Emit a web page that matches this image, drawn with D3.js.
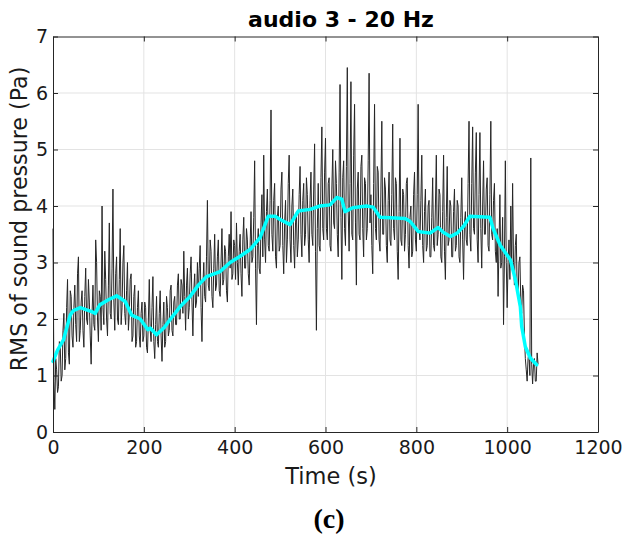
<!DOCTYPE html>
<html>
<head>
<meta charset="utf-8">
<script src="https://cdn.jsdelivr.net/npm/d3@7"></script>
<style>
  body { margin: 0; background: #fff; }
  svg { display: block; font-family: "DejaVu Sans", sans-serif; }
</style>
</head>
<body>
<svg id="chart" width="625" height="542"></svg>
<script>
// Raw RMS samples, one every 2 s from t = 0 to 1068 s
const sampleStep = 2;
const rmsRaw = [
  3.6, 0.9, 0.4, 1.3, 1.1, 0.7, 0.8, 1.6, 1.5, 0.9, 1.0, 1.8, 2.1, 1.1, 1.3, 2.2, 2.7, 1.4, 1.2, 2.5,
  2.4, 1.7, 1.5, 2.2, 2.6, 1.9, 1.6, 2.8, 3.1, 1.6, 1.8, 2.3, 2.5, 1.8, 1.5, 2.4, 2.9, 2.0, 1.9, 2.7,
  2.3, 1.7, 1.2, 2.1, 2.6, 1.9, 1.8, 3.4, 3.0, 2.0, 1.6, 2.5, 2.4, 1.8, 4.0, 2.2, 1.9, 3.2, 2.7, 2.0,
  1.7, 2.6, 3.7, 2.1, 2.0, 2.9, 4.3, 2.3, 1.8, 2.8, 3.1, 2.0, 1.9, 2.7, 3.6, 1.9, 2.2, 3.0, 3.3, 2.1,
  1.9, 2.5, 3.0, 1.8, 2.1, 2.7, 2.8, 1.6, 1.7, 2.4, 2.6, 1.5, 1.6, 2.2, 2.5, 1.7, 1.5, 2.1, 2.3, 1.6,
  1.7, 2.3, 2.2, 1.5, 1.4, 2.0, 2.7, 1.8, 1.6, 2.2, 2.75, 1.6, 1.3, 1.9, 2.4, 1.6, 1.5, 2.1, 2.5, 1.7,
  1.25, 1.9, 2.3, 1.5, 1.6, 2.4, 2.2, 1.7, 1.8, 2.5, 2.6, 1.8, 1.7, 2.3, 2.4, 1.9, 1.9, 2.6, 2.8, 2.0,
  2.0, 2.7, 2.6, 2.1, 3.2, 2.4, 1.8, 2.6, 2.9, 2.0, 2.2, 2.8, 3.1, 2.3, 1.7, 2.5, 2.8, 2.2, 2.3, 3.0,
  2.4, 2.9, 3.3, 2.2, 1.6, 2.6, 3.0, 2.4, 2.3, 3.1, 4.1, 2.6, 2.5, 3.4, 3.2, 2.4, 2.2, 2.9, 3.5, 2.5,
  2.6, 3.1, 3.4, 2.5, 2.4, 3.0, 3.6, 2.6, 2.7, 3.3, 3.2, 2.5, 2.3, 3.1, 3.5, 2.9, 3.9, 2.7, 2.8, 3.4,
  3.3, 2.7, 3.7, 3.0, 2.6, 3.2, 3.5, 2.8, 2.4, 3.4, 3.8, 2.9, 2.9, 3.6, 3.4, 2.8, 2.6, 3.3, 3.9, 3.0,
  3.1, 3.8, 4.8, 2.9, 1.9, 3.3, 3.6, 2.9, 2.8, 3.7, 4.2, 3.1, 4.9, 3.4, 3.0, 3.9, 4.3, 3.3, 3.2, 4.1,
  5.7, 3.5, 3.2, 4.1, 4.4, 3.1, 2.9, 3.8, 4.0, 3.2, 3.3, 4.3, 4.6, 3.3, 2.8, 3.7, 4.1, 3.0, 3.4, 4.4,
  4.9, 3.4, 3.0, 4.0, 4.3, 3.3, 2.9, 3.7, 3.9, 3.1, 3.4, 4.2, 4.7, 3.5, 3.1, 4.1, 4.4, 3.3, 3.5, 4.5,
  4.2, 3.4, 3.0, 4.1, 4.6, 3.5, 3.3, 4.3, 5.1, 3.2, 1.8, 3.6, 4.4, 3.3, 3.2, 4.5, 5.4, 3.6, 3.4, 4.6,
  5.2, 3.6, 3.4, 4.4, 4.5, 3.3, 3.2, 4.3, 5.0, 3.7, 3.6, 4.8, 4.4, 3.5, 3.1, 4.6, 6.15, 3.8, 2.7, 4.5,
  4.8, 3.6, 3.3, 4.7, 6.45, 3.9, 3.2, 4.4, 6.2, 3.5, 3.4, 4.9, 5.8, 3.7, 2.6, 4.3, 4.6, 3.5, 3.4, 4.7,
  4.9, 3.6, 3.1, 4.5, 4.4, 3.4, 3.6, 4.8, 6.35, 3.7, 4.2, 3.3, 2.8, 4.4, 5.8, 3.6, 3.4, 4.7, 4.6, 3.4,
  3.2, 4.3, 5.5, 3.5, 3.5, 4.5, 4.3, 3.3, 3.0, 4.1, 4.6, 3.4, 3.3, 4.2, 5.45, 3.6, 3.4, 4.5, 4.4, 3.2,
  2.7, 3.9, 5.2, 3.4, 3.3, 4.3, 4.2, 3.2, 3.5, 4.4, 4.5, 3.3, 2.9, 3.8, 4.0, 3.1, 3.2, 4.2, 4.6, 3.4,
  3.2, 4.2, 5.8, 3.6, 3.4, 4.1, 4.9, 3.3, 3.0, 3.9, 4.3, 3.2, 3.3, 4.0, 4.1, 3.1, 3.1, 3.8, 4.5, 3.3,
  3.2, 4.0, 4.9, 3.3, 3.5, 4.3, 4.2, 3.1, 3.0, 3.9, 4.9, 3.2, 2.7, 3.8, 4.7, 3.3, 3.4, 4.1, 4.0, 3.1,
  3.1, 3.9, 4.3, 3.2, 3.3, 4.1, 4.0, 3.1, 3.0, 3.8, 4.5, 3.4, 2.7, 3.7, 3.9, 3.4, 3.3, 4.4, 5.5, 3.5,
  3.2, 4.4, 5.4, 3.6, 3.5, 4.6, 5.3, 3.4, 3.0, 4.2, 5.3, 3.6, 2.9, 4.0, 4.8, 3.5, 3.5, 4.3, 4.5, 3.3,
  3.2, 4.2, 5.5, 3.5, 3.4, 4.1, 4.4, 3.2, 3.0, 3.6, 2.4, 3.3, 4.2, 2.9, 3.0, 3.8, 1.9, 3.1, 4.8, 3.0,
  2.2, 3.0, 3.4, 2.7, 4.0, 2.9, 4.4, 3.0, 2.6, 3.3, 3.5, 2.5, 2.4, 3.0, 3.1, 2.3, 2.1, 2.6, 2.5, 1.7,
  1.3, 1.1, 0.9, 1.3, 1.4, 1.0, 4.85, 1.2, 0.85, 1.2, 1.3, 0.9, 0.9, 1.4, 1.2
];

// Smoothed trend (cyan)
const trendTime = [0, 10, 23, 38, 45, 60, 85, 93, 103, 122, 140, 159, 173, 192, 209, 214, 228,
  245, 258, 280, 302, 320, 338, 368, 390, 412, 434, 456, 474, 489, 500, 522, 540, 566, 588,
  610, 625, 636, 643, 660, 690, 705, 720, 775, 786, 804, 830, 848, 860, 875, 890, 905, 918,
  962, 969, 985, 1007, 1018, 1029, 1032, 1040, 1051, 1065];
const trendValue = [1.25, 1.45, 1.63, 2.07, 2.15, 2.2, 2.13, 2.1, 2.25, 2.34, 2.41, 2.31, 2.07, 2.0, 1.81, 1.84, 1.72,
  1.85, 1.99, 2.22, 2.4, 2.6, 2.75, 2.84, 3.0, 3.11, 3.23, 3.44, 3.82, 3.82, 3.76, 3.67, 3.91, 3.94, 4.0,
  4.02, 4.15, 4.12, 3.9, 3.97, 4.0, 3.98, 3.8, 3.78, 3.73, 3.55, 3.52, 3.62, 3.53, 3.46, 3.52, 3.65, 3.82,
  3.8, 3.6, 3.3, 3.05, 2.7, 2.22, 1.87, 1.51, 1.31, 1.19];

const xTicks = [0, 200, 400, 600, 800, 1000, 1200];
const yTicks = [0, 1, 2, 3, 4, 5, 6, 7];

const margin = { top: 36.5, right: 27, bottom: 110, left: 53 };
const W = 625, H = 542;
const iw = W - margin.left - margin.right;
const ih = H - margin.top - margin.bottom;

const svg = d3.select("#chart");
const g = svg.append("g").attr("transform", `translate(${margin.left},${margin.top})`);

const x = d3.scaleLinear().domain([0, 1200]).range([0, iw]);
const y = d3.scaleLinear().domain([0, 7]).range([ih, 0]);

const raw = rmsRaw.map((v, i) => ({ t: i * sampleStep, v }));
const trend = trendTime.map((t, i) => ({ t, v: trendValue[i] }));

// Grid
g.append("g").selectAll("line").data(xTicks.slice(1, -1)).enter().append("line")
  .attr("x1", d => x(d)).attr("x2", d => x(d)).attr("y1", 0).attr("y2", ih)
  .attr("stroke", "#e3e3e3").attr("stroke-width", 1);
g.append("g").selectAll("line").data(yTicks.slice(1, -1)).enter().append("line")
  .attr("y1", d => y(d)).attr("y2", d => y(d)).attr("x1", 0).attr("x2", iw)
  .attr("stroke", "#e3e3e3").attr("stroke-width", 1);

// Data lines
const line = d3.line().x(d => x(d.t)).y(d => y(d.v));
g.append("path").datum(raw)
  .attr("fill", "none").attr("stroke", "#262626").attr("stroke-width", 1)
  .attr("d", line);
g.append("path").datum(trend)
  .attr("fill", "none").attr("stroke", "#00ffff").attr("stroke-width", 3.5)
  .attr("stroke-linejoin", "round").attr("stroke-linecap", "round").attr("d", line);

// Axes (MATLAB style: box, inward ticks)
const tickLen = 5;
const axisColor = "#262626";
const fmt = d3.format("d");
const styleAxis = sel => {
  sel.select(".domain").attr("stroke", axisColor);
  sel.selectAll(".tick line").attr("stroke", axisColor);
  sel.selectAll(".tick text").attr("fill", "#1a1a1a")
    .style("font-family", "DejaVu Sans, sans-serif").style("font-size", "19px");
};

g.append("g").attr("transform", `translate(0,${ih})`)
  .call(d3.axisBottom(x).tickValues(xTicks).tickFormat(fmt).tickSize(-tickLen).tickPadding(9).tickSizeOuter(0))
  .call(styleAxis);
g.append("g")
  .call(d3.axisTop(x).tickValues(xTicks).tickSize(-tickLen).tickFormat("").tickSizeOuter(0))
  .call(styleAxis);
g.append("g")
  .call(d3.axisLeft(y).tickValues(yTicks).tickFormat(fmt).tickSize(-tickLen).tickPadding(5).tickSizeOuter(0))
  .call(styleAxis);
g.append("g").attr("transform", `translate(${iw},0)`)
  .call(d3.axisRight(y).tickValues(yTicks).tickSize(-tickLen).tickFormat("").tickSizeOuter(0))
  .call(styleAxis);

// Labels
svg.append("text")
  .attr("x", 341).attr("y", 27)
  .attr("text-anchor", "middle").attr("font-weight", "bold").attr("font-size", 22)
  .attr("fill", "#000").text("audio 3 - 20 Hz");

svg.append("text")
  .attr("x", 331).attr("y", 484)
  .attr("text-anchor", "middle").attr("font-size", 22.5)
  .attr("fill", "#1a1a1a").text("Time (s)");

svg.append("text")
  .attr("transform", "translate(27,219) rotate(-90)")
  .attr("text-anchor", "middle").attr("font-size", 22.2)
  .attr("fill", "#1a1a1a").text("RMS of sound pressure (Pa)");

svg.append("text")
  .attr("x", 329).attr("y", 528)
  .attr("text-anchor", "middle").attr("font-weight", "bold").attr("font-size", 28)
  .style("font-family", "Liberation Serif, serif")
  .attr("fill", "#000").text("(c)");
</script>
</body>
</html>
